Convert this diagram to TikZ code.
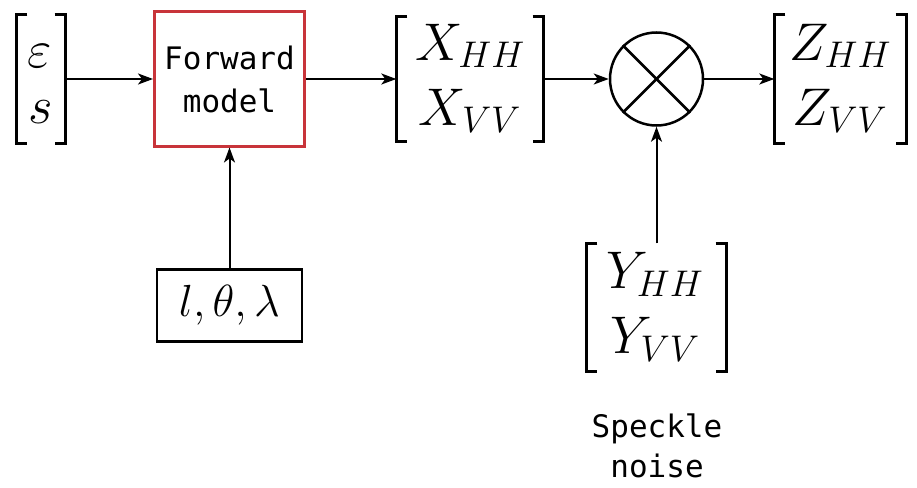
\RequirePackage{fix-cm}
\documentclass[tikz,border=0pt]{standalone}
\usepackage{fontspec}
\setmonofont{DejaVu Sans Mono}
\usetikzlibrary{arrows.meta}
\definecolor{fmred}{RGB}{200,52,58}
\tikzset{
  conn/.style={line width=2pt,-{Stealth[length=15pt,width=11pt,inset=4pt]}},
  brkt/.style={line width=3pt,line join=miter,line cap=butt},
  slot/.style={rectangle,inner sep=0pt,draw=none},
  mathbig/.style={font=\fontsize{53}{60}\selectfont,inner sep=0pt},
  mathmid/.style={font=\fontsize{45}{52}\selectfont,inner sep=0pt},
  monotxt/.style={font=\fontsize{31}{40}\selectfont\ttfamily,align=center,inner sep=0pt},
  fmbox/.style={rectangle,draw=fmred,line width=3pt,inner sep=0pt,
    font=\fontsize{31}{43}\selectfont\ttfamily,align=center},
  parbox/.style={rectangle,draw=black,line width=2.7pt,inner sep=0pt},
  mulnode/.style={circle,draw=black,line width=2.5pt,inner sep=0pt,minimum size=93pt},
}
\newcommand{\mybrackets}[1]{%
  \draw[brkt] ([xshift=11pt]#1.north west) -- (#1.north west) -- (#1.south west) -- ([xshift=11pt]#1.south west);
  \draw[brkt] ([xshift=-11pt]#1.north east) -- (#1.north east) -- (#1.south east) -- ([xshift=-11pt]#1.south east);}
\begin{document}
\begin{tikzpicture}[x=1pt,y=-1pt]
\useasboundingbox[fill=white] (0,0) rectangle (917,487);
% input vector
\node[slot,minimum width=49pt,minimum height=128pt] (in) at (41,79) {};
\mybrackets{in}
\node[mathbig,anchor=base] (eps) at (40,67) {$\varepsilon$};
\node[mathbig,anchor=base] (s) at (41,123) {$s$};
% forward model
\node[fmbox,minimum width=150pt,minimum height=134pt] (fm) at (229.5,79) {Forward\\model};
% parameters
\node[parbox,minimum width=145pt,minimum height=72pt] (par) at (229.5,305.5) {};
\node[mathmid] (partxt) at (par.center) {$l,\theta,\lambda$};
% X vector
\node[slot,minimum width=147pt,minimum height=125pt] (X) at (470,79) {};
\mybrackets{X}
\node[mathbig,anchor=base] (xhh) at (470,60) {$X_{HH}$};
\node[mathbig,anchor=base] (xvv) at (470,125) {$X_{VV}$};
% multiplier
\node[mulnode] (mul) at (656.5,79) {};
\draw[line width=2.5pt] (mul.north west) -- (mul.south east);
\draw[line width=2.5pt] (mul.north east) -- (mul.south west);
% Z vector
\node[slot,minimum width=132pt,minimum height=128pt] (Z) at (840.5,79) {};
\mybrackets{Z}
\node[mathbig,anchor=base] (zhh) at (840,60) {$Z_{HH}$};
\node[mathbig,anchor=base] (zvv) at (840,125) {$Z_{VV}$};
% Y vector
\node[slot,minimum width=140pt,minimum height=128pt] (Y) at (656.5,307.5) {};
\mybrackets{Y}
\node[mathbig,anchor=base] (yhh) at (655,288.5) {$Y_{HH}$};
\node[mathbig,anchor=base] (yvv) at (655,353.5) {$Y_{VV}$};
\node[monotxt] (spk) at (657,446) {Speckle\\noise};
% connectors
\draw[conn] (in.east) -- (fm.west);
\draw[conn] (fm.east) -- (X.west);
\draw[conn] (X.east) -- (mul.west);
\draw[conn] (mul.east) -- (Z.west);
\draw[conn] (par.north) -- (fm.south);
\draw[conn] (Y.north) -- (mul.south);
\end{tikzpicture}
\end{document}
